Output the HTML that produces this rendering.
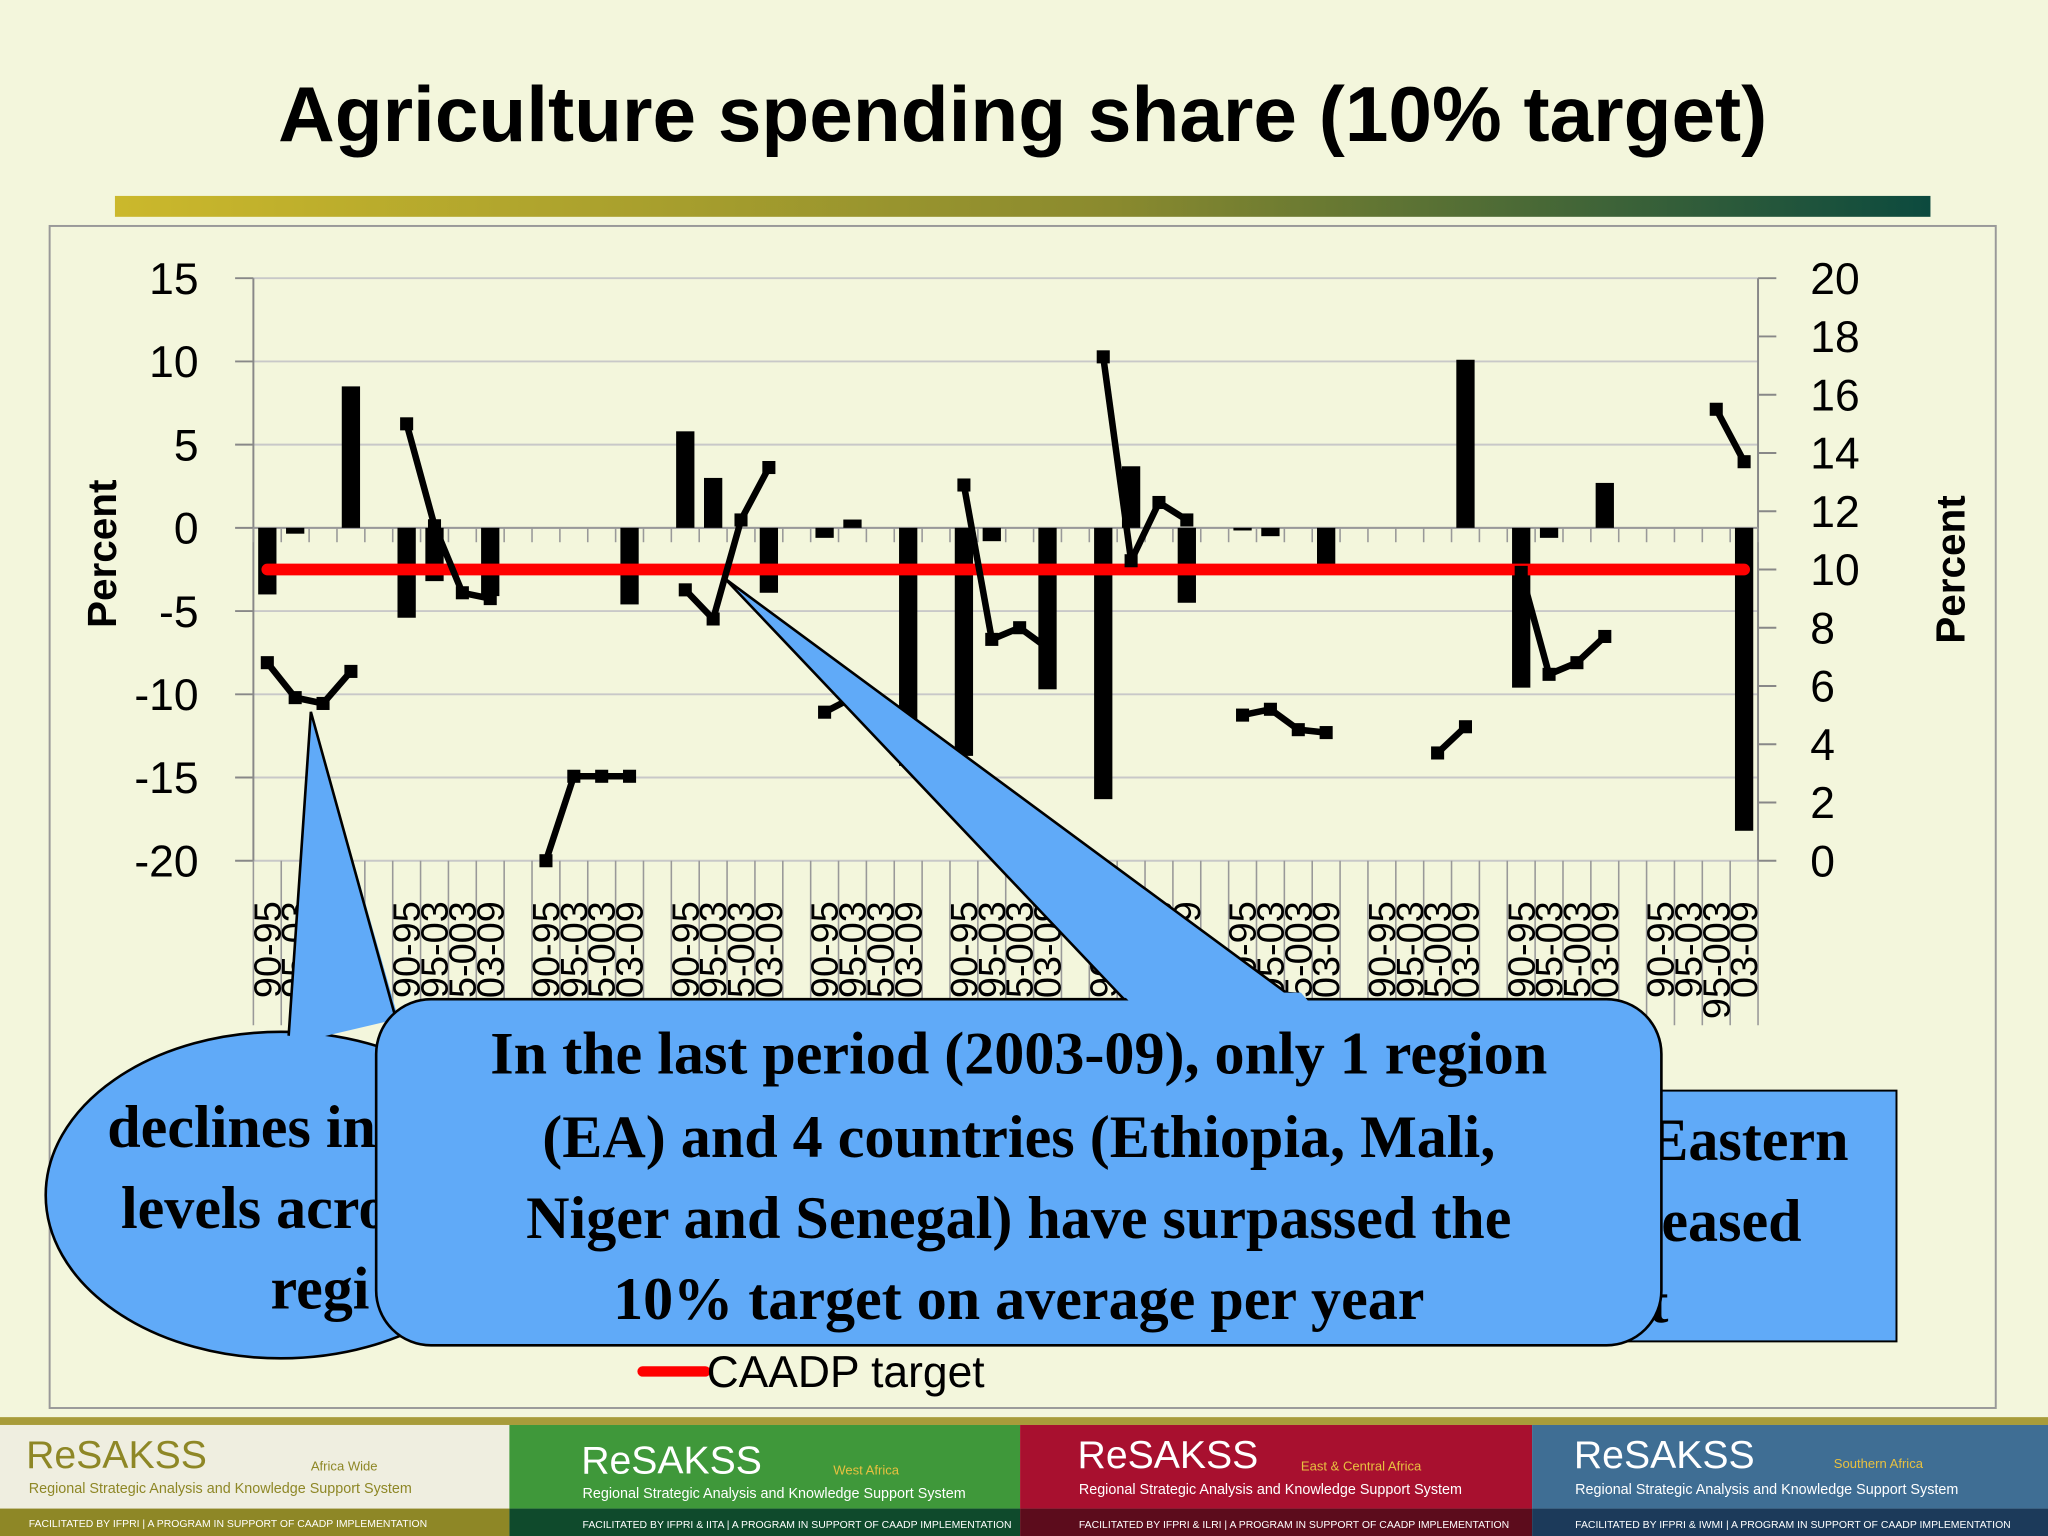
<!DOCTYPE html>
<html><head><meta charset="utf-8"><style>
html,body{margin:0;padding:0;background:#f3f6dc;}
svg{display:block;}
</style></head><body>
<svg width="2048" height="1536" viewBox="0 0 1568 1176" xmlns="http://www.w3.org/2000/svg" font-family="Liberation Sans, sans-serif">
<defs>
<linearGradient id="hg" x1="0" x2="1" y1="0" y2="0"><stop offset="0" stop-color="#cbb82c"/><stop offset="0.55" stop-color="#8a8a2e"/><stop offset="1" stop-color="#0c4a3e"/></linearGradient>
</defs>
<rect x="0" y="0" width="1568" height="1176" fill="#f3f6dc"/>
<text x="783" y="108" text-anchor="middle" font-size="60" font-weight="bold" fill="#000">Agriculture spending share (10% target)</text>
<rect x="88" y="150" width="1390" height="16" fill="url(#hg)"/>
<rect x="38" y="173" width="1490" height="905" fill="none" stroke="#999" stroke-width="1.5"/>
<g id="chart"></g>
<g id="over">
  <ellipse cx="215" cy="915" rx="180" ry="125" fill="#60aaf8" stroke="#000" stroke-width="2"/>
  <path d="M220,800 L238,545 L305,780 Z" fill="#60aaf8"/>
  <path d="M221,793 L238,545 L302,776" fill="none" stroke="#000" stroke-width="2"/>
  <text font-family="Liberation Serif, serif" font-weight="bold" font-size="46" text-anchor="middle" fill="#000"><tspan x="185" y="878">declines in</tspan><tspan x="195" y="940">levels acro</tspan><tspan x="245" y="1002">regi</tspan></text>
  <rect x="1230" y="835" width="222" height="192" fill="#60aaf8" stroke="#000" stroke-width="1.5"/>
  <text font-family="Liberation Serif, serif" font-weight="bold" font-size="46" fill="#000"><tspan x="1262" y="888">Eastern</tspan><tspan x="1272" y="950">eased</tspan><tspan x="1262" y="1012">t</tspan></text>
  <path d="M870,775 L555,443 L1005,775 Z" fill="#60aaf8" stroke="#000" stroke-width="2"/>
  <rect x="288" y="765" width="984" height="265" rx="42" fill="#60aaf8" stroke="#000" stroke-width="2"/>
  <path d="M858,760 L996,760 L1003,768 L866,768 Z" fill="#60aaf8"/>
  <text font-family="Liberation Serif, serif" font-weight="bold" font-size="46" text-anchor="middle" fill="#000"><tspan x="780" y="822">In the last period (2003-09), only 1 region</tspan><tspan x="780" y="886">(EA) and 4 countries (Ethiopia, Mali,</tspan><tspan x="780" y="948">Niger and Senegal) have surpassed the</tspan><tspan x="780" y="1010">10% target on average per year</tspan></text>
  <line x1="492" y1="1050" x2="540" y2="1050" stroke="#ff0000" stroke-width="8" stroke-linecap="round"/>
  <text x="541" y="1062" font-size="34" fill="#000">CAADP target</text>
</g>
<g>
  <rect x="0" y="1085" width="1568" height="6" fill="#a89c3a"/>
  <rect x="0" y="1091" width="390" height="64" fill="#efeee0"/>
  <rect x="0" y="1155" width="390" height="21" fill="#8e8726"/>
  <rect x="390" y="1091" width="391" height="64" fill="#3f983a"/>
  <rect x="390" y="1155" width="391" height="21" fill="#0f4a2c"/>
  <rect x="781" y="1091" width="392" height="64" fill="#a8102f"/>
  <rect x="781" y="1155" width="392" height="21" fill="#5c0c1c"/>
  <rect x="1173" y="1091" width="395" height="64" fill="#3f6e94"/>
  <rect x="1173" y="1155" width="395" height="21" fill="#1c3a5a"/>
  <g font-size="30">
    <text x="20" y="1124" fill="#8e8726">ReSAKSS</text>
    <text x="445" y="1128" fill="#fff">ReSAKSS</text>
    <text x="825" y="1124" fill="#fff">ReSAKSS</text>
    <text x="1205" y="1124" fill="#fff">ReSAKSS</text>
  </g>
  <g font-size="11">
    <text x="22" y="1143" fill="#8e8726">Regional Strategic Analysis and Knowledge Support System</text>
    <text x="446" y="1147" fill="#fff">Regional Strategic Analysis and Knowledge Support System</text>
    <text x="826" y="1144" fill="#fff">Regional Strategic Analysis and Knowledge Support System</text>
    <text x="1206" y="1144" fill="#fff">Regional Strategic Analysis and Knowledge Support System</text>
  </g>
  <g font-size="8" fill="#fff">
    <text x="22" y="1169">FACILITATED BY IFPRI | A PROGRAM IN SUPPORT OF CAADP IMPLEMENTATION</text>
    <text x="446" y="1170">FACILITATED BY IFPRI &amp; IITA | A PROGRAM IN SUPPORT OF CAADP IMPLEMENTATION</text>
    <text x="826" y="1170">FACILITATED BY IFPRI &amp; ILRI | A PROGRAM IN SUPPORT OF CAADP IMPLEMENTATION</text>
    <text x="1206" y="1170">FACILITATED BY IFPRI &amp; IWMI | A PROGRAM IN SUPPORT OF CAADP IMPLEMENTATION</text>
  </g>
  <g font-size="10">
    <text x="238" y="1126" fill="#8e8726">Africa Wide</text>
    <text x="638" y="1129" fill="#e8c040">West Africa</text>
    <text x="996" y="1126" fill="#e8c040">East &amp; Central Africa</text>
    <text x="1404" y="1124" fill="#e8c040">Southern Africa</text>
  </g>
</g>
</svg>
<script>
const categoryLabels = ["90-95","95-03","95-003","03-09"];
const barValues = [-4,-0.35,null,8.5,null, -5.4,-3.2,null,-4.1,null, null,null,null,-4.6,null, 5.8,3.0,null,-3.9,null, -0.6,0.5,null,-14.3,null, -13.7,-0.8,null,-9.7,null, -16.3,3.7,null,-4.5,null, -0.1,-0.5,null,-2.2,null, null,null,null,10.1,null, -9.6,-0.6,null,2.7,null, null,null,null,-18.2];
const lineValues = [6.8,5.6,5.4,6.5,null, 15.0,11.5,9.2,9.0,null, 0,2.9,2.9,2.9,null, 9.3,8.3,11.7,13.5,null, 5.1,5.6,4.8,null,null, 12.9,7.6,8.0,7.3,null, 17.3,10.3,12.3,11.7,null, 5.0,5.2,4.5,4.4,null, null,null,3.7,4.6,null, 9.9,6.4,6.8,7.7,null, null,null,15.5,13.7];
const targetValue = [10];
const leftTicks = [15,10,5,0,-5,-10,-15,-20];
const rightTicks = [20,18,16,14,12,10,8,6,4,2,0];

const NS="http://www.w3.org/2000/svg";
const g=document.getElementById('chart');
const X0=194,X1=1346,YT=213,YB=659,N=barValues.length;
const bw=(X1-X0)/N;
const yL=v=>YB-(v-(-20))/(35)*(YB-YT);
const yR=v=>YB-v/20*(YB-YT);
const xC=i=>X0+(i+0.5)*bw;
function mk(tag,attrs){const e=document.createElementNS(NS,tag);for(const k in attrs)e.setAttribute(k,attrs[k]);g.appendChild(e);return e;}
leftTicks.forEach(v=>{
  const l=mk('line',{x1:X0,x2:X1,y1:yL(v),y2:yL(v),stroke:'#c8c8c8','stroke-width':1.5});
  
  
  const t=mk('line',{x1:X0-14,x2:X0,y1:yL(v),y2:yL(v),stroke:'#888','stroke-width':1.5});
  
  
  const tx=mk('text',{x:152,y:yL(v)+12,'text-anchor':'end','font-size':34,fill:'#000'});
  tx.textContent=v;
  
  
});
rightTicks.forEach(v=>{
  const t=mk('line',{x1:X1,x2:X1+14,y1:yR(v),y2:yR(v),stroke:'#888','stroke-width':1.5});
  
  
  const tx=mk('text',{x:1386,y:yR(v)+12,'font-size':34,fill:'#000'});
  tx.textContent=v;
  
  
});
let ax=mk('line',{x1:X0,x2:X0,y1:YT,y2:YB,stroke:'#888','stroke-width':1.5});


ax=mk('line',{x1:X1,x2:X1,y1:YT,y2:YB,stroke:'#888','stroke-width':1.5});


ax=mk('line',{x1:X0,x2:X1,y1:yL(0),y2:yL(0),stroke:'#999','stroke-width':1.5});


for(let i=0;i<=N;i++){
  const x=X0+i*bw;
  const t=mk('line',{x1:x,x2:x,y1:yL(0),y2:yL(0)+11,stroke:'#999','stroke-width':1.2});
  
  
  const t2=mk('line',{x1:x,x2:x,y1:YB,y2:785,stroke:'#999','stroke-width':1.2});
  
  
}
for(let i=0;i<N;i++){
  if(i%5===4) continue;
  const lab=categoryLabels[i%5];
  const tx=mk('text',{x:0,y:0,'font-size':29,fill:'#000','text-anchor':'end',transform:`translate(${xC(i)+10},690) rotate(-90)`});
  tx.textContent=lab;
  
  
}
let at=mk('text',{x:0,y:0,'font-size':31,'font-weight':'bold','text-anchor':'middle',transform:'translate(89,424) rotate(-90)'});
at.textContent='Percent';


at=mk('text',{x:0,y:0,'font-size':31,'font-weight':'bold','text-anchor':'middle',transform:'translate(1504,436) rotate(-90)'});
at.textContent='Percent';


barValues.forEach((v,i)=>{
  if(v===null) return;
  const y0=yL(0),y1=yL(v);
  const r=mk('rect',{x:xC(i)-7,y:Math.min(y0,y1),width:14,height:Math.max(2,Math.abs(y1-y0)),fill:'#000'});
  
  
});
const tl=mk('line',{x1:xC(0),x2:xC(N-1),y1:yR(targetValue[0]),y2:yR(targetValue[0]),stroke:'#ff0000','stroke-width':9,'stroke-linecap':'round'});


for(let i=0;i<N-1;i++){
  if(lineValues[i]!==null && lineValues[i+1]!==null){
    const s=mk('line',{x1:xC(i),y1:yR(lineValues[i]),x2:xC(i+1),y2:yR(lineValues[i+1]),stroke:'#000','stroke-width':5});
    
    
  }
}
lineValues.forEach((v,i)=>{
  if(v===null) return;
  const m=mk('rect',{x:xC(i)-5,y:yR(v)-5,width:10,height:10,fill:'#000'});
  
  
});
</script>
</body></html>
